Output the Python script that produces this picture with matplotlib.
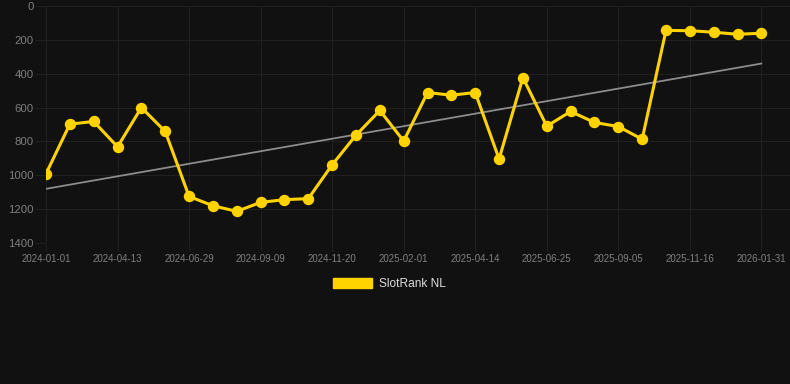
import matplotlib
matplotlib.use('Agg')
import matplotlib.pyplot as plt
from matplotlib.patches import Patch

# ---- data ----
rank = [991, 698, 682, 832, 600, 741, 1125, 1180, 1213, 1160, 1144, 1138,
        938, 763, 617, 798, 511, 527, 511, 904, 423, 710, 623, 688, 712,
        787, 144, 146, 155, 167, 161]
tick_labels = ['2024-01-01', '2024-04-13', '2024-06-29', '2024-09-09',
               '2024-11-20', '2025-02-01', '2025-04-14', '2025-06-25',
               '2025-09-05', '2025-11-16', '2026-01-31']
trend_ends = [1080, 340]
series_name = 'SlotRank NL'

BG = '#111111'
GRID = '#202020'
TXT = '#7f7f7f'
YELLOW = '#FFD300'

plt.rcParams['font.family'] = ['Liberation Sans', 'DejaVu Sans']

fig = plt.figure(figsize=(7.9, 3.84), dpi=100, facecolor=BG)
ax = fig.add_axes([46 / 790, 1 - 243 / 384, 1 - 46 / 790, 237 / 384])
ax.set_facecolor(BG)

x = list(range(len(rank)))
ax.plot([x[0], x[-1]], trend_ends, color='#8c8c8c', lw=1.3, zorder=2)
ax.plot(x, rank, color=YELLOW, lw=2.2, marker='o', ms=7.2, zorder=3)

ax.set_ylim(1400, 0)
ax.set_yticks(range(0, 1401, 200))
ax.set_xlim(0, 31.2)
ax.set_xticks(x[::3])
ax.set_xticklabels(tick_labels)

ax.grid(True, color=GRID, lw=0.8)
ax.set_axisbelow(True)
for s in ax.spines.values():
    s.set_visible(False)
ax.tick_params(axis='y', length=8, color=GRID, labelcolor=TXT, labelsize=8.2, pad=1)
ax.tick_params(axis='x', length=6, color=GRID, labelcolor=TXT, labelsize=7.0, pad=2)

fig.legend(handles=[Patch(facecolor=YELLOW, edgecolor=YELLOW, label=series_name)],
           loc='center', bbox_to_anchor=(389.5 / 790, 1 - 284 / 384),
           frameon=False, fontsize=8.6, labelcolor='#dddddd',
           handlelength=3.3, handleheight=1.0, handletextpad=0.55, borderpad=0)

fig.savefig('out.png', dpi=100, facecolor=BG)
